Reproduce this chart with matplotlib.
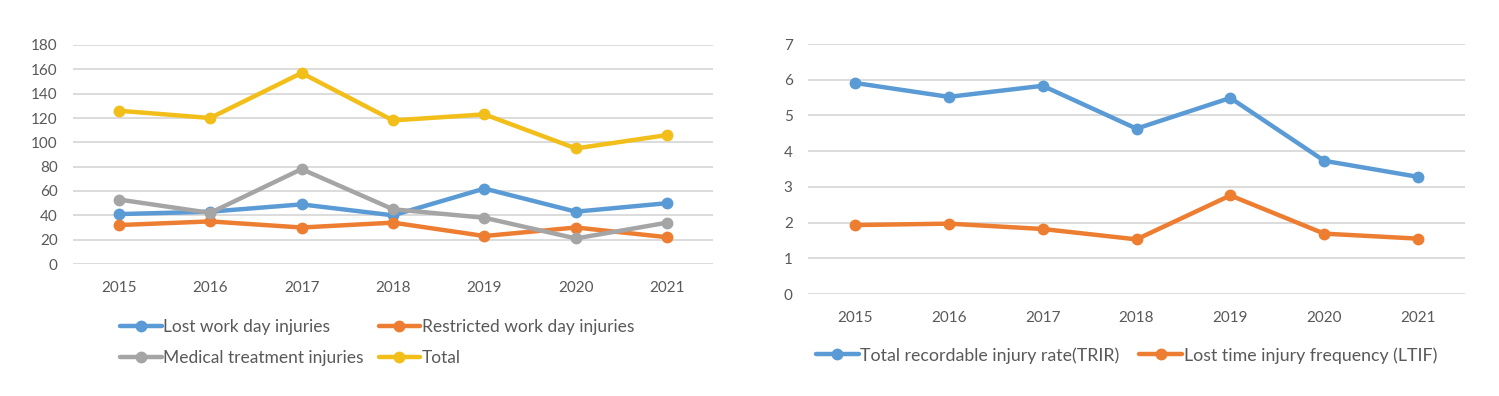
import matplotlib.pyplot as plt
from matplotlib.ticker import MultipleLocator

years = ["2015", "2016", "2017", "2018", "2019", "2020", "2021"]

lost_work_day = [41, 43, 49, 40, 62, 43, 50]
restricted_work_day = [32, 35, 30, 34, 23, 30, 22]
medical_treatment = [53, 42, 78, 45, 38, 21, 34]
total = [126, 120, 157, 118, 123, 95, 106]

trir = [5.91, 5.52, 5.83, 4.63, 5.49, 3.73, 3.28]
ltif = [1.93, 1.97, 1.82, 1.53, 2.76, 1.69, 1.55]

blue = "#5B9BD5"
orange = "#ED7D31"
gray = "#A5A5A5"
yellow = "#F2BE1A"
text_color = "#595959"

plt.rcParams["font.family"] = ["Lato", "DejaVu Sans"]
plt.rcParams["font.size"] = 11

fig = plt.figure(figsize=(14.99, 3.96), dpi=100)

ax1 = fig.add_axes([73 / 1499, 1 - 264 / 396, 640 / 1499, 219 / 396])
ax2 = fig.add_axes([808 / 1499, 1 - 294 / 396, 657 / 1499, 250 / 396])

x = range(len(years))
style = dict(linewidth=3.2, marker="o", markersize=7.5, solid_capstyle="round")

l_lost, = ax1.plot(x, lost_work_day, color=blue, label="Lost work day injuries", **style)
l_restr, = ax1.plot(x, restricted_work_day, color=orange, label="Restricted work day injuries", **style)
l_med, = ax1.plot(x, medical_treatment, color=gray, label="Medical treatment injuries", **style)
l_tot, = ax1.plot(x, total, color=yellow, label="Total", **style)
ax1.set_ylim(0, 180)
ax1.yaxis.set_major_locator(MultipleLocator(20))

ax2.plot(x, trir, color=blue, label="Total recordable injury rate(TRIR)", **style)
ax2.plot(x, ltif, color=orange, label="Lost time injury frequency (LTIF)", **style)
ax2.set_ylim(0, 7)
ax2.yaxis.set_major_locator(MultipleLocator(1))

for ax in (ax1, ax2):
    ax.set_xlim(-0.5, len(years) - 0.5)
    ax.set_xticks(list(x))
    ax.set_xticklabels(years)
    for s in ax.spines.values():
        s.set_visible(False)
    ax.grid(axis="y", color="#D9D9D9", linewidth=1.3)
    ax.set_axisbelow(True)
    ax.tick_params(length=0, colors=text_color, labelsize=11)
    ax.tick_params(axis="y", pad=11)
    ax.tick_params(axis="x", pad=12.5)

handles = [l_lost, l_med, l_restr, l_tot]
ax1.legend(handles, [h.get_label() for h in handles],
           loc="upper left", bbox_to_anchor=(120 / 1499, 1 - 319 / 396),
           bbox_transform=fig.transFigure, ncol=2, frameon=False,
           handlelength=2.4, handletextpad=0.1, columnspacing=0.85,
           labelspacing=0.85, labelcolor=text_color, fontsize=12.5,
           borderaxespad=0, borderpad=0)
ax2.legend(loc="upper left", bbox_to_anchor=(816 / 1499, 1 - 347 / 396),
           bbox_transform=fig.transFigure, ncol=2, frameon=False,
           handlelength=2.4, handletextpad=0.1, columnspacing=1.1,
           labelcolor=text_color, fontsize=12.8,
           borderaxespad=0, borderpad=0)

fig.savefig("out.png", dpi=100)
